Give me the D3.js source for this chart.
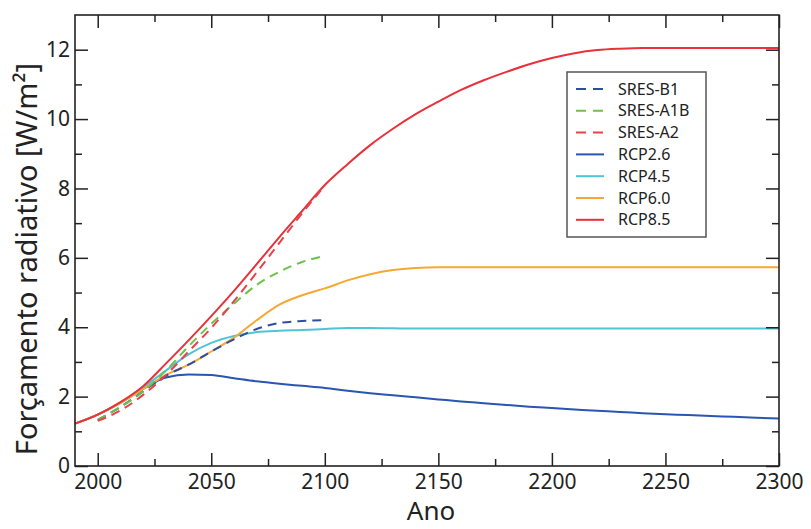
<!DOCTYPE html>
<html><head><meta charset="utf-8">
<script src="https://cdn.jsdelivr.net/npm/d3@7"></script>
<style>
body{margin:0;background:#fff;}
text{font-family:"Noto Sans",sans-serif;}
</style></head>
<body><svg id="c" width="811" height="529"></svg>
<script>
// ---- data ----
const rcpYears = [1990,2000,2010,2020,2030,2040,2050,2060,2070,2080,2090,2100,2110,2120,2130,2140,2150,2160,2170,2180,2190,2200,2210,2220,2230,2240,2250,2260,2270,2280,2290,2300];
const rcp26 = [1.22,1.48,1.82,2.22,2.55,2.64,2.62,2.53,2.44,2.37,2.31,2.25,2.17,2.1,2.04,1.98,1.92,1.86,1.81,1.76,1.71,1.67,1.63,1.59,1.56,1.52,1.49,1.47,1.44,1.42,1.39,1.37];
const rcp45 = [1.22,1.48,1.82,2.26,2.75,3.22,3.55,3.75,3.86,3.9,3.92,3.95,3.98,3.98,3.97,3.96,3.96,3.96,3.96,3.96,3.96,3.96,3.96,3.96,3.96,3.96,3.96,3.96,3.96,3.96,3.96,3.96];
const rcp60 = [1.22,1.48,1.82,2.22,2.62,2.92,3.3,3.7,4.2,4.65,4.92,5.12,5.35,5.53,5.65,5.71,5.73,5.73,5.73,5.73,5.73,5.73,5.73,5.73,5.73,5.73,5.73,5.73,5.73,5.73,5.73,5.73];
const rcp85 = [1.22,1.48,1.84,2.3,2.95,3.62,4.32,5.05,5.82,6.6,7.35,8.1,8.7,9.25,9.72,10.14,10.5,10.84,11.12,11.36,11.58,11.76,11.9,11.99,12.03,12.05,12.05,12.05,12.05,12.05,12.05,12.05];
const sresYears = [2000,2010,2020,2030,2040,2050,2060,2070,2080,2090,2100];
const sresB1  = [1.33,1.7,2.15,2.6,2.92,3.3,3.65,3.95,4.12,4.18,4.2];
const sresA1B = [1.33,1.7,2.15,2.75,3.45,4.1,4.68,5.22,5.6,5.88,6.06];
const sresA2  = [1.3,1.6,2.05,2.62,3.3,3.98,4.75,5.58,6.43,7.28,8.08];
const xMajorTicks = [2000,2050,2100,2150,2200,2250,2300];
const xMinorTicks = [2025,2075,2125,2175,2225,2275];
const yMajorTicks = [0,2,4,6,8,10,12];
const yMinorTicks = [1,3,5,7,9,11];
const seriesNames = ["SRES-B1","SRES-A1B","SRES-A2","RCP2.6","RCP4.5","RCP6.0","RCP8.5"];

const series = [
  {name:"SRES-B1", years:sresYears, vals:sresB1, color:"#2f4f9e", dash:"9,6"},
  {name:"SRES-A1B", years:sresYears, vals:sresA1B, color:"#6cc24a", dash:"9,6"},
  {name:"SRES-A2", years:sresYears, vals:sresA2, color:"#e8424b", dash:"9,6"},
  {name:"RCP2.6", years:rcpYears, vals:rcp26, color:"#2a55b0", dash:null},
  {name:"RCP4.5", years:rcpYears, vals:rcp45, color:"#4ec5d6", dash:null},
  {name:"RCP6.0", years:rcpYears, vals:rcp60, color:"#f5a833", dash:null},
  {name:"RCP8.5", years:rcpYears, vals:rcp85, color:"#e8313a", dash:null}
];

const L=75, R=779, T=15, B=466;
const svg = d3.select("#c");
const x = d3.scaleLinear().domain([1990,2300]).range([L,R]);
const y = d3.scaleLinear().domain([0,13]).range([B,T]);

const g = svg.append("g");
const line = d3.line().curve(d3.curveMonotoneX);
const drawOrder = [3,4,5,6,0,1,2];
drawOrder.forEach(i=>{
  const s = series[i];
  const pts = s.years.map((yr,k)=>[x(yr), y(s.vals[k])]);
  g.append("path").attr("d", line(pts)).attr("fill","none")
    .attr("stroke", s.color).attr("stroke-width",2)
    .attr("stroke-dasharray", s.dash);
});

// axes with inward ticks
const stroke="#222";
function styleAxis(sel){ sel.select(".domain").remove(); sel.selectAll("line").attr("stroke",stroke).attr("stroke-width",1.5); }
const xb = svg.append("g").attr("transform",`translate(0,${B})`)
  .call(d3.axisBottom(x).tickValues(xMajorTicks).tickSize(-13).tickFormat(d3.format("d")));
styleAxis(xb);
xb.selectAll("text").attr("font-size",21).attr("fill","#222").attr("dy","0.71em").attr("y",8);
const xbm = svg.append("g").attr("transform",`translate(0,${B})`)
  .call(d3.axisBottom(x).tickValues(xMinorTicks).tickSize(-7).tickFormat(""));
styleAxis(xbm);
const xt = svg.append("g").attr("transform",`translate(0,${T})`)
  .call(d3.axisTop(x).tickValues(xMajorTicks).tickSize(-13).tickFormat(""));
styleAxis(xt);
const xtm = svg.append("g").attr("transform",`translate(0,${T})`)
  .call(d3.axisTop(x).tickValues(xMinorTicks).tickSize(-7).tickFormat(""));
styleAxis(xtm);

const yl = svg.append("g").attr("transform",`translate(${L},0)`)
  .call(d3.axisLeft(y).tickValues(yMajorTicks).tickSize(-13).tickFormat(d3.format("d")));
styleAxis(yl);
yl.selectAll("text").attr("font-size",21).attr("fill","#222").attr("x",-5);
const ylm = svg.append("g").attr("transform",`translate(${L},0)`)
  .call(d3.axisLeft(y).tickValues(yMinorTicks).tickSize(-7).tickFormat(""));
styleAxis(ylm);
const yr = svg.append("g").attr("transform",`translate(${R},0)`)
  .call(d3.axisRight(y).tickValues(yMajorTicks).tickSize(-13).tickFormat(""));
styleAxis(yr);
const yrm = svg.append("g").attr("transform",`translate(${R},0)`)
  .call(d3.axisRight(y).tickValues(yMinorTicks).tickSize(-7).tickFormat(""));
styleAxis(yrm);

svg.append("rect").attr("x",L).attr("y",T).attr("width",R-L).attr("height",B-T)
  .attr("fill","none").attr("stroke",stroke).attr("stroke-width",1.6);

// axis titles
svg.append("text").attr("x",(L+R)/2+4).attr("y",520).attr("text-anchor","middle")
  .attr("font-size",26).attr("fill","#222").text("Ano");
svg.append("text").attr("transform",`translate(37,259) rotate(-90)`)
  .attr("text-anchor","middle").attr("font-size",29).attr("fill","#222")
  .text("Forçamento radiativo [W/m²]");

// legend
const lg = svg.append("g");
lg.append("rect").attr("x",567).attr("y",72).attr("width",139).attr("height",165)
  .attr("fill","#fff").attr("stroke","#555").attr("stroke-width",1.5);
seriesNames.forEach((nm,i)=>{
  const s = series.find(d=>d.name===nm);
  const yy = 89 + i*21.8;
  lg.append("line").attr("x1",576).attr("x2",604).attr("y1",yy).attr("y2",yy)
    .attr("stroke",s.color).attr("stroke-width",2).attr("stroke-dasharray", s.dash ? "10,7" : null);
  lg.append("text").attr("x",618).attr("y",yy).attr("dy","0.35em")
    .attr("font-size",16).attr("fill","#222").text(nm);
});
</script></body></html>
